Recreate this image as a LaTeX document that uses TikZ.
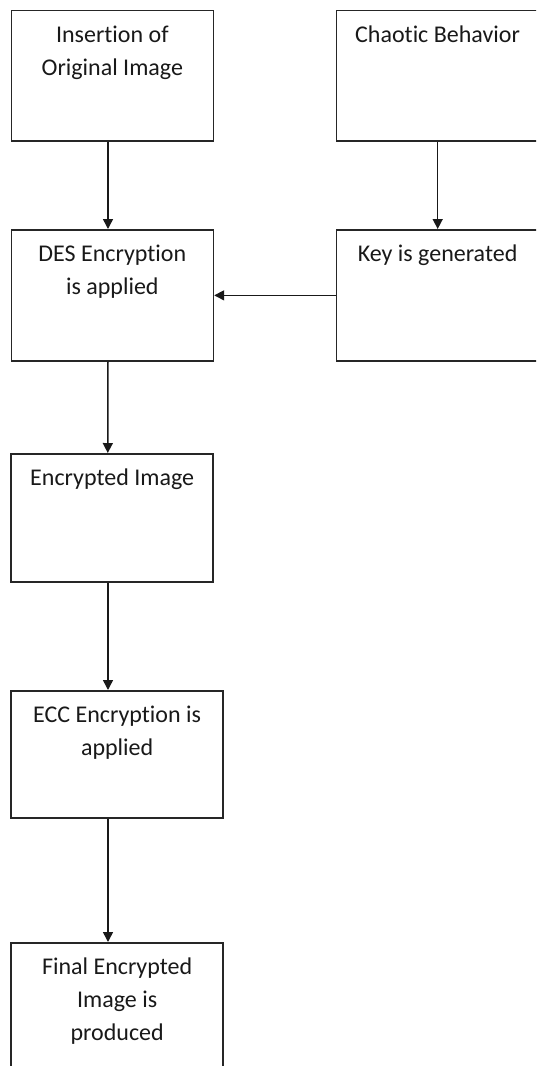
\documentclass[tikz,border=0pt]{standalone}
\usepackage{fontspec}
\setmainfont{Carlito}[Ligatures={NoCommon}]
\usetikzlibrary{arrows.meta}

% text of a box, first baseline 32pt under the top edge
\newcommand{\boxtext}[3]{\parbox[t][#2][t]{#1}{\centering\rule{0pt}{32pt}#3}}

\begin{document}
\begin{tikzpicture}[x=1pt, y=-1pt,
    stage/.style={draw=black!85, line width=1.7pt, inner sep=0pt, anchor=north west,
        font=\fontsize{24}{33}\selectfont, text=black!90},
    flow/.style={draw=black!90, line width=1.5pt, -{Triangle[length=10pt,width=10pt]}}]
        \useasboundingbox (0,0) rectangle (536,1066);
        \clip (0,0) rectangle (536,1066);
        \fill[white] (0,0) rectangle (536,1066);

        % Left column.
        \node[stage] (insert) at (10.5,9.5) {\boxtext{202pt}{130.5pt}{Insertion of\\Original Image}};
        \node[stage] (des) at (10.5,229) {\boxtext{202pt}{131pt}{DES Encryption\\is applied}};
        \node[stage] (encimg) at (10.3,453) {\boxtext{202pt}{128pt}{Encrypted Image}};
        \node[stage] (ecc) at (10.3,690) {\boxtext{212pt}{127pt}{ECC Encryption is\\applied}};
        \node[stage] (final) at (10.3,942) {\boxtext{212pt}{140pt}{Final Encrypted\\Image is\\produced}};

        % Right column.
        \node[stage] (chaos) at (335.7,9.5) {\boxtext{202pt}{130.5pt}{Chaotic Behavior}};
        \node[stage] (key) at (335.7,229) {\boxtext{202pt}{131pt}{Key is generated}};

        % Arrows.
        \draw[flow] ([xshift=97.5pt]insert.south west) -- ([xshift=97.5pt]des.north west);
        \draw[flow] ([xshift=97.5pt]des.south west) -- ([xshift=97.5pt]encimg.north west);
        \draw[flow] ([xshift=97.7pt]encimg.south west) -- ([xshift=97.7pt]ecc.north west);
        \draw[flow] ([xshift=97.7pt]ecc.south west) -- ([xshift=97.7pt]final.north west);
        \draw[flow] ([xshift=102pt]chaos.south west) -- ([xshift=102pt]key.north west);
        \draw[flow] (key.west) -- (des.east);
    \end{tikzpicture}
\end{document}
